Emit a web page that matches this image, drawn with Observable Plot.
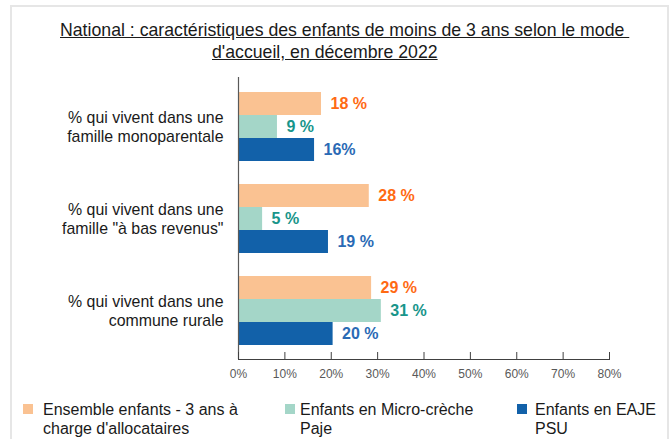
<!DOCTYPE html>
<html>
<head>
<meta charset="utf-8">
<script src="https://cdn.jsdelivr.net/npm/d3@7"></script>
<script src="https://cdn.jsdelivr.net/npm/@observablehq/plot@0.6"></script>
<style>
  body { margin: 0; background: #fff; font-family: "Liberation Sans", Arial, sans-serif; }
  #page { position: relative; width: 671px; height: 439px; overflow: hidden; }
  #panel { position: absolute; left: 10px; top: 5px; width: 655px; height: 460px; border: 2px solid #e6e6e6; box-sizing: content-box; }
  .title { position: absolute; font-size: 17.7px; line-height: 22px; color: #1a1a1a; text-decoration: underline; white-space: pre; }
  #chart { position: absolute; left: 0; top: 62px; }
  .leg { position: absolute; top: 400px; font-size: 16px; line-height: 19px; color: #1a1a1a; white-space: pre-line; }
  .sw { position: absolute; width: 10px; height: 10px; }
</style>
</head>
<body>
<div id="page">
  <div id="panel"></div>
  <div id="titles"></div>
  <div id="chart"></div>
  <div id="legend"></div>
</div>
<script>
const titleLines = ["National : caractéristiques des enfants de moins de 3 ans selon le mode ", "d'accueil, en décembre 2022"];
const categories = [
  "% qui vivent dans une\nfamille monoparentale",
  "% qui vivent dans une\nfamille \"à bas revenus\"",
  "% qui vivent dans une\ncommune rurale"
];
const series = [
  "Ensemble enfants - 3 ans à\ncharge d'allocataires",
  "Enfants en Micro-crèche\nPaje",
  "Enfants en EAJE\nPSU"
];
const colors = ["#fac292", "#a4d6c8", "#1261a9"];
const labelColors = ["#ff6a13", "#18958a", "#2a6ab5"];
const ensemble = [17.9, 28.2, 28.7];
const microCreche = [8.4, 5.2, 30.8];
const eaje = [16.4, 19.4, 20.4];
const ensembleLabels = ["18 %", "28 %", "29 %"];
const microLabels = ["9 %", "5 %", "31 %"];
const eajeLabels = ["16%", "19 %", "20 %"];
const xTicks = [0, 10, 20, 30, 40, 50, 60, 70, 80];
const xTickLabels = ["0%", "10%", "20%", "30%", "40%", "50%", "60%", "70%", "80%"];

const values = [ensemble, microCreche, eaje];
const labels = [ensembleLabels, microLabels, eajeLabels];

const rows = [];
const yDomain = [];
categories.forEach((c, ci) => {
  series.forEach((s, si) => {
    const key = ci + "-" + si;
    yDomain.push(key);
    rows.push({key, cat: c, series: s, value: values[si][ci], label: labels[si][ci], lc: labelColors[si]});
  });
  if (ci < categories.length - 1) yDomain.push(ci + "-gap");
});
const catRows = categories.map((c, ci) => ({key: ci + "-1", text: c}));

const titlePos = [{left: 60, top: 19}, {left: 212, top: 41}];
titleLines.forEach((t, i) => {
  const d = document.createElement("div");
  d.className = "title";
  d.style.left = titlePos[i].left + "px";
  d.style.top = titlePos[i].top + "px";
  d.textContent = t;
  document.getElementById("titles").appendChild(d);
});

const plot = Plot.plot({
  width: 671,
  height: 327,
  marginTop: 15,
  marginBottom: 30,
  marginLeft: 238,
  marginRight: 62,
  style: {fontFamily: "'Liberation Sans', Arial, sans-serif", background: "transparent"},
  x: {domain: [0, 80], axis: null},
  y: {type: "band", domain: yDomain, paddingInner: 0, paddingOuter: 0.5, axis: null},
  color: {domain: series, range: colors},
  marks: [
    Plot.barX(rows, {x: "value", y: "key", fill: "series"}),
    Plot.text(rows, {x: "value", y: "key", text: "label", fill: "lc", textAnchor: "start", dx: 9, fontSize: 16, fontWeight: "bold"}),
    Plot.text(catRows, {x: 0, y: "key", text: "text", textAnchor: "end", dx: -15, dy: -1, fontSize: 15.9, lineHeight: 1.2, fill: "#1a1a1a"}),
    Plot.ruleX([0], {stroke: "#595959", strokeWidth: 1.2}),
    Plot.ruleX(xTicks, {x: d => d, insetTop: 275, stroke: "#404040"}),
    Plot.frame({anchor: "bottom", stroke: "#404040"}),
    Plot.axisX(xTicks, {tickSize: 0, tickPadding: 10, fontSize: 12, fill: "#595959", label: null, tickFormat: (d) => xTickLabels[xTicks.indexOf(d)]})
  ]
});
document.getElementById("chart").appendChild(plot);

const legPos = [{sw: 23, tx: 43}, {sw: 285, tx: 300}, {sw: 517, tx: 535}];
const legend = document.getElementById("legend");
series.forEach((s, i) => {
  const sw = document.createElement("div");
  sw.className = "sw";
  sw.style.left = legPos[i].sw + "px";
  sw.style.top = "404px";
  sw.style.background = colors[i];
  legend.appendChild(sw);
  const t = document.createElement("div");
  t.className = "leg";
  t.style.left = legPos[i].tx + "px";
  t.textContent = s;
  legend.appendChild(t);
});
</script>
</body>
</html>
